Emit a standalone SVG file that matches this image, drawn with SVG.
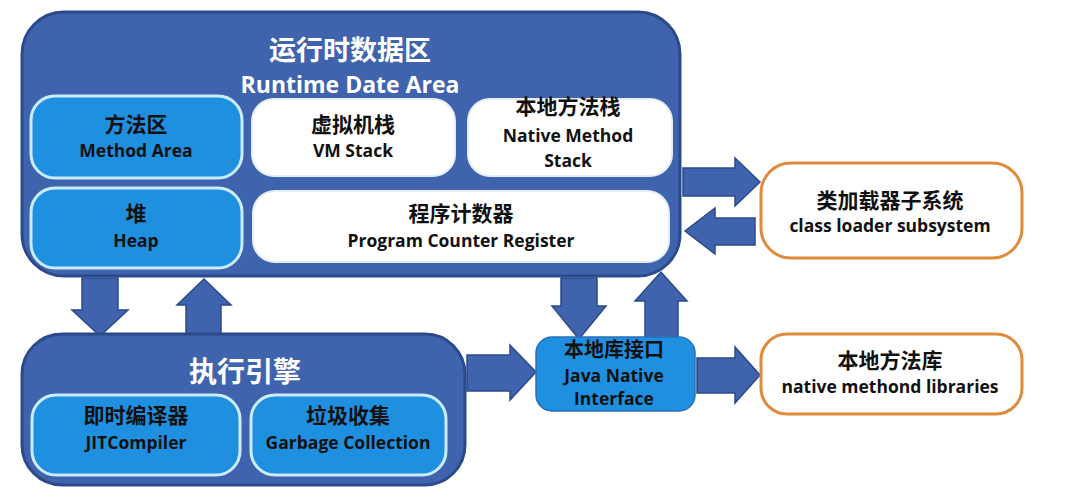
<svg xmlns="http://www.w3.org/2000/svg" width="1080" height="497" viewBox="0 0 1080 497">
<style>
.big{fill:#3f64ad;stroke:#2b4a8c;stroke-width:3}
.blue{fill:#1f8fe0;stroke:#c9ecff;stroke-width:3}
.white{fill:#ffffff;stroke:#e8eef8;stroke-width:2}
.org{fill:#ffffff;stroke:#e08a3c;stroke-width:3}
.arr{fill:#3f64ad;stroke:#2b4a8c;stroke-width:1.5;stroke-linejoin:miter}
text{font-family:"Open Sans","Noto Sans CJK SC",sans-serif;font-weight:bold;text-anchor:middle}
.t{fill:#ffffff;font-size:27px}
.te{fill:#ffffff;font-size:23px}
.zh{fill:#111111;font-size:21px}
.en{fill:#111111;font-size:17.5px}
</style>
<rect width="1080" height="497" fill="#ffffff"/>
<g id="connectors">
<polygon class="arr" points="82,278 118,278 118,310 128,310 100,336 72,310 82,310"/>
<polygon class="arr" points="186,336 221,336 221,305 231,305 204,279 177,305 186,305"/>
<polygon class="arr" points="561,278 597,278 597,306 606,306 579,339 552,306 561,306"/>
<polygon class="arr" points="645,338 678,338 678,301 687,301 661,272 635,301 645,301"/>
<polygon class="arr" points="683,168 735,168 735,158 760,182 735,206 735,196 683,196"/>
<polygon class="arr" points="755,218 715,218 715,208 685,231 715,254 715,245 755,245"/>
<polygon class="arr" points="467,355 510,355 510,345 536,372 510,400 510,391 467,391"/>
<polygon class="arr" points="697,358 735,358 735,347 760,375 735,403 735,393 697,393"/>
</g>
<g id="runtime-data-area">
<rect class="big" x="22" y="12" width="658" height="264" rx="42"/>
<text class="t" x="350" y="60">运行时数据区</text>
<text class="te" x="350" y="93">Runtime Date Area</text>
</g>
<g id="method-area">
<rect class="blue" x="31" y="96" width="211" height="82" rx="24"/>
<text class="zh" x="136" y="132">方法区</text>
<text class="en" x="136" y="157">Method Area</text>
</g>
<g id="vm-stack">
<rect class="white" x="252" y="99" width="203" height="77" rx="22"/>
<text class="zh" x="353" y="132">虚拟机栈</text>
<text class="en" x="353" y="157">VM Stack</text>
</g>
<g id="native-method-stack">
<rect class="white" x="468" y="99" width="204" height="77" rx="22"/>
<text class="zh" x="568" y="114">本地方法栈</text>
<text class="en" x="568" y="142">Native Method</text>
<text class="en" x="568" y="167">Stack</text>
</g>
<g id="heap">
<rect class="blue" x="31" y="188" width="211" height="80" rx="24"/>
<text class="zh" x="136" y="221">堆</text>
<text class="en" x="136" y="247">Heap</text>
</g>
<g id="program-counter-register">
<rect class="white" x="253" y="191" width="416" height="71" rx="22"/>
<text class="zh" x="461" y="221">程序计数器</text>
<text class="en" x="461" y="247">Program Counter Register</text>
</g>
<g id="execution-engine">
<rect class="big" x="22" y="334" width="443" height="151" rx="40"/>
<text class="t" x="245" y="382" style="font-size:28px">执行引擎</text>
</g>
<g id="jit-compiler">
<rect class="blue" x="32" y="395" width="208" height="80" rx="24"/>
<text class="zh" x="136" y="423">即时编译器</text>
<text class="en" x="136" y="449">JITCompiler</text>
</g>
<g id="garbage-collection">
<rect class="blue" x="251" y="395" width="195" height="80" rx="24"/>
<text class="zh" x="348" y="423">垃圾收集</text>
<text class="en" x="348" y="449">Garbage Collection</text>
</g>
<g id="jni">
<rect x="536" y="337" width="159" height="74" rx="16" fill="#1f8fe0" stroke="#2b6fb8" stroke-width="1.5"/>
<text class="zh" x="614" y="357" style="font-size:20px">本地库接口</text>
<text class="en" x="614" y="382">Java Native</text>
<text class="en" x="614" y="405">Interface</text>
</g>
<g id="class-loader-subsystem">
<rect class="org" x="761" y="163" width="261" height="95" rx="30"/>
<text class="zh" x="890" y="208">类加载器子系统</text>
<text class="en" x="890" y="232">class loader subsystem</text>
</g>
<g id="native-method-libraries">
<rect class="org" x="761" y="334" width="261" height="80" rx="26"/>
<text class="zh" x="890" y="368">本地方法库</text>
<text class="en" x="890" y="393">native methond  libraries</text>
</g>
</svg>
